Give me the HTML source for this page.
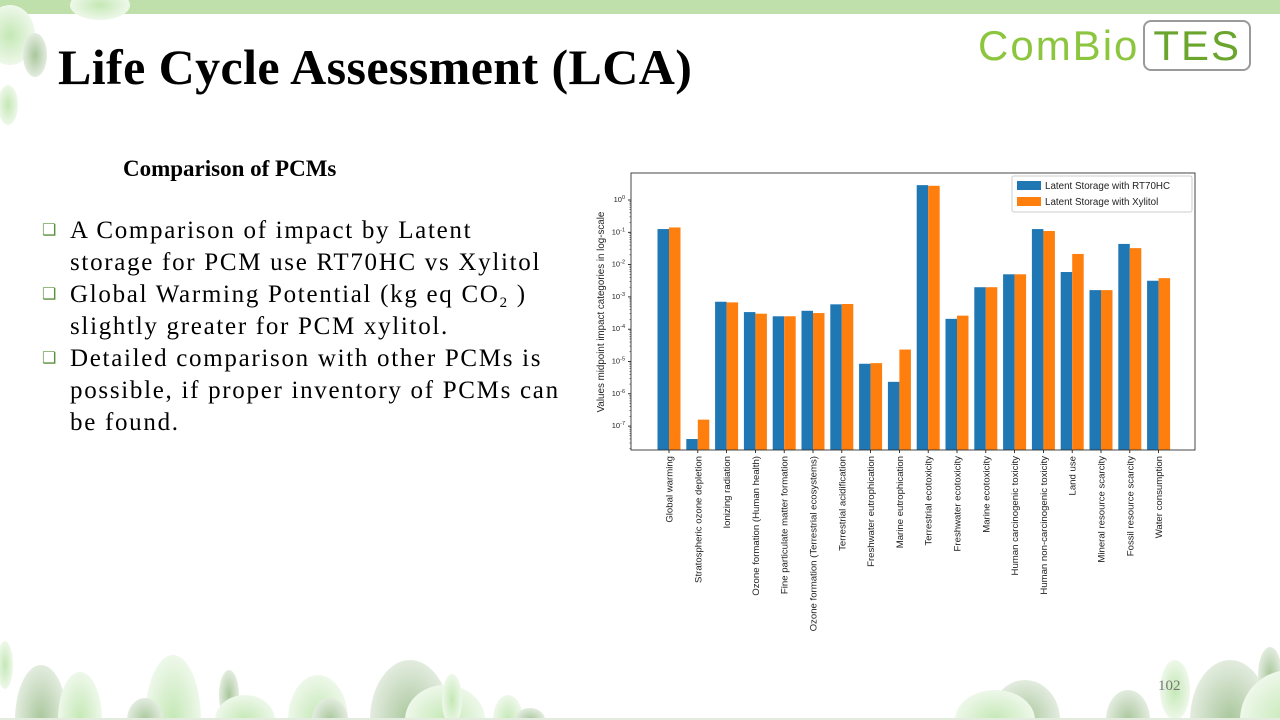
<!DOCTYPE html>
<html><head><meta charset="utf-8"><style>
html,body{margin:0;width:1280px;height:720px;overflow:hidden;background:#fff;font-family:"Liberation Serif",serif;position:relative}
.t{position:absolute;white-space:nowrap;color:#000}
.b{position:relative;padding-left:28px;height:32px}
.b i{position:absolute;left:0;top:0;color:#5a8f3a;font-size:16px;font-style:normal;letter-spacing:0}
</style></head><body>
<svg width="1280" height="720" style="position:absolute;left:0;top:0">
<defs>
<radialGradient id="g1"><stop offset="0" stop-color="#a9c79c"/><stop offset="1" stop-color="#e3ecdf"/></radialGradient>
<radialGradient id="g2"><stop offset="0" stop-color="#c4e8b5"/><stop offset="1" stop-color="#eef8ea"/></radialGradient>
</defs>
<rect x="0" y="0" width="1280" height="14" fill="#bfe0ab"/>
<ellipse cx="10" cy="35" rx="25" ry="30" fill="url(#g2)"/>
<ellipse cx="35" cy="55" rx="12" ry="22" fill="url(#g1)"/>
<ellipse cx="8" cy="105" rx="10" ry="20" fill="url(#g2)"/>
<ellipse cx="100" cy="5" rx="30" ry="15" fill="url(#g2)"/>
<ellipse cx="41" cy="720" rx="26" ry="55" fill="url(#g1)"/>
<ellipse cx="80" cy="720" rx="22" ry="48" fill="url(#g2)"/>
<ellipse cx="5" cy="665" rx="8" ry="24" fill="url(#g2)"/>
<ellipse cx="173" cy="720" rx="28" ry="65" fill="url(#g2)"/>
<ellipse cx="145" cy="720" rx="18" ry="22" fill="url(#g1)"/>
<ellipse cx="229" cy="695" rx="10" ry="25" fill="url(#g1)"/>
<ellipse cx="245" cy="720" rx="30" ry="25" fill="url(#g2)"/>
<ellipse cx="318" cy="720" rx="30" ry="45" fill="url(#g2)"/>
<ellipse cx="330" cy="720" rx="18" ry="22" fill="url(#g1)"/>
<ellipse cx="410" cy="720" rx="40" ry="60" fill="url(#g1)"/>
<ellipse cx="445" cy="720" rx="40" ry="35" fill="url(#g2)"/>
<ellipse cx="452" cy="700" rx="10" ry="26" fill="url(#g2)"/>
<ellipse cx="508" cy="720" rx="15" ry="25" fill="url(#g2)"/>
<ellipse cx="530" cy="720" rx="15" ry="12" fill="url(#g1)"/>
<ellipse cx="1025" cy="720" rx="35" ry="40" fill="url(#g1)"/>
<ellipse cx="995" cy="720" rx="40" ry="30" fill="url(#g2)"/>
<ellipse cx="1230" cy="720" rx="40" ry="60" fill="url(#g1)"/>
<ellipse cx="1128" cy="720" rx="22" ry="30" fill="url(#g1)"/>
<ellipse cx="1270" cy="675" rx="12" ry="28" fill="url(#g1)"/>
<ellipse cx="1290" cy="720" rx="50" ry="50" fill="url(#g2)"/>
<ellipse cx="1175" cy="690" rx="15" ry="30" fill="url(#g2)"/>
<rect x="0" y="718" width="1280" height="2" fill="#e3ecdf"/>
</svg>
<div class="t" style="left:58px;top:38px;font-size:50px;font-weight:bold;letter-spacing:0.4px">Life Cycle Assessment (LCA)</div>
<div class="t" style="left:978px;top:22px;font-family:'Liberation Sans',sans-serif;font-size:42px;color:#8cc63f;letter-spacing:2px">ComBio<span style="border:2px solid #9a9a9a;border-radius:8px;padding:0 8px;color:#6aa52d;margin-left:4px">TES</span></div>
<div class="t" style="left:123px;top:156px;font-size:23px;font-weight:bold">Comparison of PCMs</div>
<div style="position:absolute;left:42px;top:215px;width:560px;font-size:25px;letter-spacing:1.7px;line-height:32px;white-space:nowrap">
<div class="b"><i>❑</i>A Comparison of impact by Latent</div>
<div class="b">storage for PCM use RT70HC vs Xylitol</div>
<div class="b"><i>❑</i>Global Warming Potential (kg eq CO<span style="font-size:15px;position:relative;top:5px">2</span> )</div>
<div class="b">slightly greater for PCM xylitol.</div>
<div class="b"><i>❑</i>Detailed comparison with other PCMs is</div>
<div class="b">possible, if proper inventory of PCMs can</div>
<div class="b">be found.</div>
</div>
<div class="t" style="left:1158px;top:678px;font-size:15px;color:#777">102</div>
<svg id="c" width="1280" height="720" style="position:absolute;left:0;top:0" font-family="Liberation Sans, sans-serif"></svg>
<script>
var d=[["Global warming",-0.9,-0.85],["Stratospheric ozone depletion",-7.4,-6.8],["Ionizing radiation",-3.15,-3.17],["Ozone formation (Human health)",-3.47,-3.52],["Fine particulate matter formation",-3.6,-3.6],["Ozone formation (Terrestrial ecosystems)",-3.43,-3.5],["Terrestrial acidification",-3.23,-3.22],["Freshwater eutrophication",-5.07,-5.05],["Marine eutrophication",-5.63,-4.63],["Terrestrial ecotoxicity",0.46,0.44],["Freshwater ecotoxicity",-3.68,-3.58],["Marine ecotoxicity",-2.7,-2.7],["Human carcinogenic toxicity",-2.3,-2.3],["Human non-carcinogenic toxicity",-0.9,-0.96],["Land use",-2.23,-1.67],["Mineral resource scarcity",-2.79,-2.79],["Fossil resource scarcity",-1.36,-1.49],["Water consumption",-2.5,-2.42]];
var s='',L=631,R=1195,T=173,B=450,dec=32.3,y0=200;
function Y(v){return y0-v*dec;}
var st=28.8,c0=669,w=11.5;
d.forEach(function(e,i){var c=c0+i*st;
s+='<rect x="'+(c-w)+'" y="'+Y(e[1])+'" width="'+w+'" height="'+(B-Y(e[1]))+'" fill="#1f77b4"/>';
s+='<rect x="'+c+'" y="'+Y(e[2])+'" width="'+w+'" height="'+(B-Y(e[2]))+'" fill="#ff7f0e"/>';
s+='<line x1="'+c+'" x2="'+c+'" y1="'+B+'" y2="'+(B+3)+'" stroke="#000" stroke-width="0.8"/>';
s+='<text transform="translate('+(c+3.5)+','+(B+6)+') rotate(-90)" text-anchor="end" font-size="9.6" fill="#222">'+e[0]+'</text>';});
for(var k=0;k>=-7;k--){var y=Y(k);s+='<line x1="'+(L-3)+'" x2="'+L+'" y1="'+y+'" y2="'+y+'" stroke="#000" stroke-width="0.8"/><text x="'+(L-6)+'" y="'+(y+2)+'" text-anchor="end" font-size="7.5" fill="#222">10<tspan dy="-3" font-size="5.5">'+k+'</tspan></text>';
for(var m=2;m<10;m++){var ym=Y(k-1+Math.log10(m));if(ym<B)s+='<line x1="'+(L-1.5)+'" x2="'+L+'" y1="'+ym+'" y2="'+ym+'" stroke="#000" stroke-width="0.5"/>';}}
s+='<rect x="'+L+'" y="'+T+'" width="'+(R-L)+'" height="'+(B-T)+'" fill="none" stroke="#333" stroke-width="0.9"/>';
s+='<text transform="translate(604,312) rotate(-90)" text-anchor="middle" font-size="9.8" fill="#222">Values midpoint impact categories in log-scale</text>';
s+='<rect x="1012" y="176" width="180" height="36" fill="#fff" stroke="#ccc" rx="2"/>';
s+='<rect x="1017" y="181" width="24" height="9" fill="#1f77b4"/><text x="1045" y="189" font-size="9.8" fill="#222">Latent Storage with RT70HC</text>';
s+='<rect x="1017" y="197" width="24" height="9" fill="#ff7f0e"/><text x="1045" y="205" font-size="9.8" fill="#222">Latent Storage with Xylitol</text>';
document.getElementById('c').innerHTML=s;
</script>
</body></html>
